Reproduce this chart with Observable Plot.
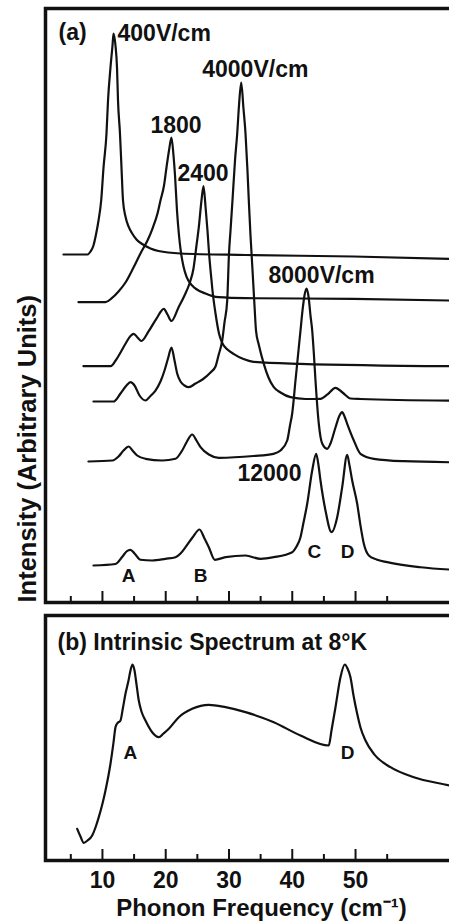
<!DOCTYPE html>
<html>
<head>
<meta charset="utf-8">
<script src="https://cdn.jsdelivr.net/npm/d3@7"></script>
<script src="https://cdn.jsdelivr.net/npm/@observablehq/plot@0.6"></script>
<style>
  html, body { margin: 0; padding: 0; background: #fff; }
  #wrap { width: 449px; height: 922px; overflow: hidden; background: #fff; }
  #wrap svg { display: block; max-width: none !important; }
</style>
</head>
<body>
<div id="wrap"></div>
<script>
// ---------- data (frequency in cm^-1, intensity in arbitrary units incl. vertical offset) ----------
const freq400  = [3.84,7.64,8.11,8.58,8.98,9.38,9.80,10.17,10.64,10.88,11.27,11.59,11.75,12.06,12.30,12.46,12.77,13.01,13.25,13.64,14.12,14.70,15.38,16.28,17.59,18.86,22.34,32.61,49.68,66.43];
const int400   = [58.0,58.0,58.5,59.5,61.33,63.67,67.0,72.5,78.17,83.67,89.17,92.83,94.83,92.83,89.17,83.67,78.17,72.5,67.0,64.33,62.67,61.5,60.5,59.75,59.0,58.58,58.17,57.92,57.67,57.23];

const freq1800 = [6.21,10.48,11.43,12.54,13.64,14.91,16.17,17.12,17.91,18.70,19.17,19.73,20.12,20.52,20.91,21.23,21.47,21.78,22.10,22.41,22.81,23.28,24.18,26.29,28.34,32.61,49.68,66.43];
const int1800  = [50.05,50.05,50.67,51.83,53.33,55.83,58.5,60.33,62.33,64.83,67.0,69.5,72.5,75.33,77.5,74.5,71.17,65.33,61.17,58.33,56.0,54.33,52.83,51.5,50.88,50.72,50.62,50.3];

const freq2400 = [7.00,11.27,12.38,13.64,14.43,14.95,15.54,16.17,17.28,18.54,19.70,20.28,20.91,22.02,22.97,23.76,24.39,24.86,25.23,25.65,25.97,26.29,26.60,26.84,27.16,27.39,27.87,28.42,28.89,29.76,30.71,32.29,33.87,41.30,66.43];
const int2400  = [39.38,39.38,40.83,43.12,44.42,44.78,44.17,43.58,45.17,47.33,48.95,48.0,46.92,49.17,51.17,53.17,55.67,59.5,62.55,67.0,69.42,66.0,62.0,58.33,54.5,52.0,48.17,44.83,43.33,42.17,41.45,40.58,40.12,39.78,39.37];

const freq4000 = [8.58,11.75,12.85,13.80,14.43,15.07,15.86,16.80,17.59,18.38,19.17,19.81,20.36,20.91,21.39,21.81,22.34,22.97,23.65,24.71,25.81,27.08,27.87,28.34,28.93,29.29,29.72,30.0,30.24,30.55,30.95,31.30,31.58,31.93,32.29,32.61,32.92,33.13,33.40,33.72,34.03,34.27,34.74,35.50,36.24,37.08,38.14,39.72,42.09,44.46,45.57,46.83,47.94,49.20,50.78,66.43];
const int4000  = [33.5,33.5,34.83,36.17,36.72,36.17,34.5,33.67,34.42,35.33,36.83,38.67,40.67,42.5,40.33,38.17,36.83,36.17,35.88,36.5,37.17,38.33,39.33,41.17,43.67,46.67,50.33,58.17,62.0,67.0,73.67,78.17,82.83,86.67,82.33,78.17,72.0,67.0,61.17,55.33,49.5,45.33,42.83,39.78,37.5,35.88,35.0,34.22,33.92,33.95,34.67,35.78,35.0,34.0,33.92,33.63];

const freq8000 = [7.79,11.59,12.54,13.33,14.16,14.75,15.49,16.80,19.44,21.54,22.60,23.28,24.18,24.86,25.50,26.81,28.39,33.87,37.03,38.14,39.20,39.64,39.99,40.51,41.03,41.30,41.62,41.93,42.25,42.57,42.88,43.15,43.43,43.67,44.19,44.73,45.52,46.04,46.83,47.47,47.89,48.26,48.68,49.73,50.78,52.89,57.58,66.43];
const int8000  = [23.5,23.67,24.33,25.33,26.0,25.33,24.5,23.95,23.67,23.95,25.33,26.67,28.0,27.0,25.88,24.67,24.12,24.42,24.78,25.33,27.0,29.5,31.5,37.0,42.5,45.33,48.67,51.17,52.33,51.0,47.83,45.33,41.17,37.0,29.83,26.5,25.62,26.5,29.17,31.17,31.72,31.0,29.78,27.0,24.78,23.95,23.55,23.35];

const freq12000 = [8.58,12.06,13.17,13.80,14.43,15.07,16.01,17.86,19.96,21.54,22.34,23.13,24.23,25.34,26.13,26.81,27.76,29.45,32.61,34.98,37.08,39.99,40.67,41.30,41.78,42.36,43.15,43.78,44.15,44.46,45.25,46.20,47.10,47.89,48.68,49.05,49.47,50.26,50.78,51.31,52.10,53.31,55.0,60.27,66.43];
const int12000  = [6.17,6.42,7.67,8.5,8.78,8.17,7.12,7.0,7.28,7.55,8.17,9.22,10.83,12.17,10.67,9.22,7.12,7.55,7.83,7.28,7.55,8.38,9.33,10.88,13.33,16.45,22.0,24.78,22.83,20.33,15.33,11.72,14.22,19.22,24.62,22.83,20.33,16.45,12.83,9.78,7.83,7.17,6.72,5.88,5.4];

const freqIntrinsic = [6.01,6.53,7.05,7.64,8.38,8.90,9.42,10.01,10.48,11.27,11.75,12.06,12.33,12.85,13.25,13.64,14.12,14.43,14.75,15.07,15.30,15.74,16.17,16.80,17.86,18.91,19.65,20.49,22.07,24.18,26.81,29.45,32.61,37.08,41.30,45.77,46.20,46.83,47.62,48.30,48.73,49.20,49.68,50.26,50.78,51.57,52.89,55.52,59.21,64.85,66.43];
const intIntrinsic  = [5.28,4.0,2.95,3.33,4.17,5.5,7.22,9.5,11.67,16.12,19.67,22.22,22.83,23.33,25.5,27.78,30.0,31.67,32.67,31.67,30.0,26.67,24.83,23.33,21.38,20.55,21.17,21.95,23.88,25.28,25.95,25.55,24.72,23.05,20.83,19.17,21.67,25.55,30.55,32.67,32.0,30.55,27.5,24.45,22.17,20.0,17.78,15.55,13.88,12.5,12.08];

const fieldNames = ["400V/cm", "1800", "2400", "4000V/cm", "8000V/cm", "12000"];

// annotation texts and their data positions
const labelTextA = ["(a)", "400V/cm", "4000V/cm", "1800", "2400", "8000V/cm", "12000"];
const labelFreqA = [3.05, 12.38, 25.77, 17.59, 21.86, 36.24, 31.34];
const labelIntA  = [95.0, 94.75, 88.83, 79.5, 71.5, 54.5, 21.5];

const peakTextA = ["A", "B", "C", "D"];
const peakFreqA = [14.12, 25.5, 43.51, 48.73];
const peakIntA  = [4.5, 4.5, 8.5, 8.5];

const titleB = "(b) Intrinsic Spectrum at 8°K";
const titleFreqB = 2.90, titleIntB = 36.33;
const peakTextB = ["A", "D"];
const peakFreqB = [14.43, 48.73];
const peakIntB  = [18.0, 18.0];

const majorTicks = [10, 20, 30, 40, 50];
const minorTicks = [5, 15, 25, 35, 45, 55];
const tickLabels = ["10", "20", "30", "40", "50"];

const yTitle = "Intensity (Arbitrary Units)";
const xTitle = "Phonon Frequency (cm⁻¹)";

// ---------- build tables ----------
const curvesA = [
  [freq400, int400], [freq1800, int1800], [freq2400, int2400],
  [freq4000, int4000], [freq8000, int8000], [freq12000, int12000]
];
const rowsA = curvesA.flatMap(([fs, vs], k) => fs.map((f, i) => ({series: fieldNames[k], f, v: vs[i]})));
const rowsB = freqIntrinsic.map((f, i) => ({f, v: intIntrinsic[i]}));
const labelsA = labelTextA.map((t, i) => ({t, f: labelFreqA[i], v: labelIntA[i]}));
const peaksA = peakTextA.map((t, i) => ({t, f: peakFreqA[i], v: peakIntA[i]}));
const peaksB = peakTextB.map((t, i) => ({t, f: peakFreqB[i], v: peakIntB[i]}));

const ink = "#111";
const font = "'Liberation Sans', Arial, sans-serif";
const xDomain = [1.0, 66.43];
const baseStyle = {fontFamily: font, fontWeight: "bold", background: "#fff", color: ink, overflow: "visible", maxWidth: "none"};

const tickMarks = [
  Plot.axisX(majorTicks, {tickSize: 11, dy: -11, tickFormat: () => "", strokeWidth: 2, stroke: ink, label: null}),
  Plot.axisX(minorTicks, {tickSize: 6, dy: -6, tickFormat: () => "", strokeWidth: 2, stroke: ink, label: null})
];

const plotA = Plot.plot({
  width: 470, height: 606,
  marginLeft: 45, marginRight: 11, marginTop: 8, marginBottom: 4,
  style: baseStyle,
  x: {domain: xDomain, label: null},
  y: {domain: [0, 99], axis: null},
  marks: [
    ...tickMarks,
    Plot.line(rowsA, {x: "f", y: "v", z: "series", stroke: ink, strokeWidth: 2.2, curve: "monotone-x"}),
    Plot.text(labelsA, {x: "f", y: "v", text: "t", textAnchor: "start", lineAnchor: "middle", fontSize: 23, fill: ink}),
    Plot.text(peaksA, {x: "f", y: "v", text: "t", textAnchor: "middle", lineAnchor: "middle", fontSize: 19, fill: ink}),
    Plot.text([yTitle], {text: d => d, frameAnchor: "bottom-left", rotate: -90, textAnchor: "start", lineAnchor: "middle", dx: -18, fontSize: 25.5, fill: ink}),
    Plot.frame({stroke: ink, strokeWidth: 3.5})
  ]
});

const plotB = Plot.plot({
  width: 470, height: 316,
  marginLeft: 45, marginRight: 11, marginTop: 9, marginBottom: 62,
  style: baseStyle,
  x: {domain: xDomain, label: null},
  y: {domain: [0, 40.833], axis: null},
  marks: [
    ...tickMarks,
    Plot.axisX(majorTicks, {tickSize: 0, tickPadding: 11, tickFormat: (d) => tickLabels[majorTicks.indexOf(d)], fontSize: 23, fill: ink, label: null}),
    Plot.line(rowsB, {x: "f", y: "v", stroke: ink, strokeWidth: 2.2, curve: "monotone-x"}),
    Plot.text([titleB], {x: () => titleFreqB, y: () => titleIntB, text: d => d, textAnchor: "start", lineAnchor: "middle", fontSize: 23, fill: ink}),
    Plot.text(peaksB, {x: "f", y: "v", text: "t", textAnchor: "middle", lineAnchor: "middle", fontSize: 19, fill: ink}),
    Plot.text([xTitle], {text: d => d, frameAnchor: "bottom", dx: 9, dy: 48, lineAnchor: "middle", fontSize: 24, fill: ink}),
    Plot.frame({stroke: ink, strokeWidth: 3.5})
  ]
});

const wrap = document.getElementById("wrap");
wrap.appendChild(plotA);
wrap.appendChild(plotB);
</script>
</body>
</html>
